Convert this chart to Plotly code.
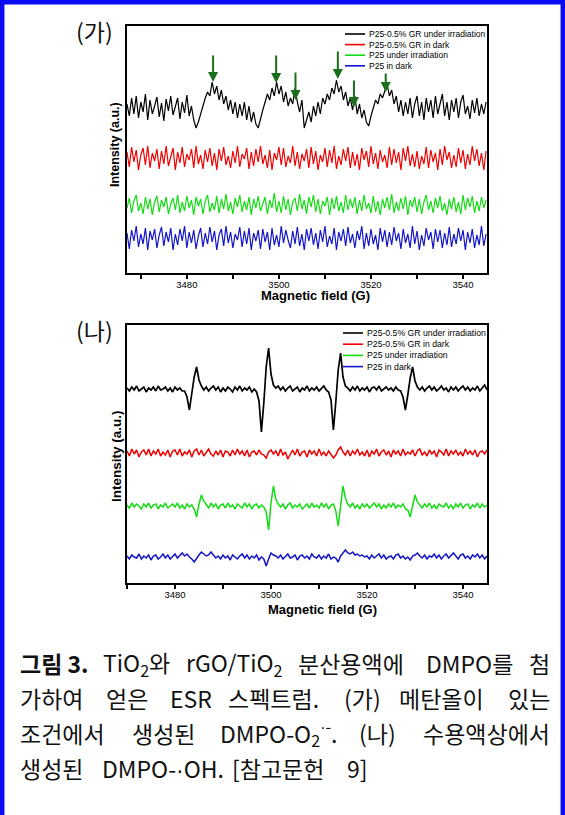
import re
import numpy as np
import plotly.graph_objects as go

W, H = 565, 815

SERIES = ["P25-0.5% GR under irradiation", "P25-0.5% GR in dark",
          "P25 under irradiation", "P25 in dark"]
COLORS = ["#000000", "#ee0000", "#14dc14", "#1414c8"]

# ---- panel (가): DMPO-O2- spectra (deviation from each trace's offset) ----
A_FIELD_START, A_FIELD_STEP = 3467.0, 0.5
A_OFFSETS = [165, 115, 68, 35]
A_BLACK = [4, -8, 10, -6, 12, -10, 6, -4, 14, -12, 8, -6, 2, 11, -9, 5, -13, 9, -3, 12,
           -7, 3, 10, -11, 6, -5, 13, -8, 2, -12, -20, -14, -6, 4, 10, 16, 12, 26, 14, 22,
           8, 18, 4, 12, -2, 8, -6, 6, -10, 4, -8, 6, -12, 2, -14, -4, -16, -20, -10, -2,
           6, 14, 8, 20, 12, 26, 14, 22, 6, 16, 2, 10, 4, 20, 6, -4, 8, -20, -12, -4,
           -14, 2, -8, 6, -6, 10, 4, 14, 8, 20, 14, 28, 16, 22, 8, 16, 2, 10, -2, 12,
           -6, 4, -10, -2, -14, -18, -8, 0, 8, 4, 14, 10, 18, 24, 12, 18, 4, 12, -4, 8,
           -8, 6, -6, 10, -10, 4, 12, -8, 6, -12, 10, -4, 8, -10, 12, -6, 4, 14, -8, 6,
           -12, 8, -4, 10, -10, 6, 13, -6, 2, -11, 8, -5, 10, -8, 4, -6, 6]
A_RED = [6, -9, 11, -4, 8, -12, 3, 10, -7, 12, -10, 5, -3, 9, -11, 7, -6, 12, -8, 2,
         10, -12, 6, -5, 11, -9, 4, -2, 9, -10, 12, -6, 3, -11, 8, -4, 10, -8, 5, -12,
         9, -3, 11, -7, 2, -10, 7, -5, 12, -9, 4, -1, 10, -11, 6, -8, 9, -4, 12, -6,
         3, -10, 8, -12, 5, -2, 11, -7, 10, -9, 2, -5, 12, -8, 6, -11, 4, -3, 9, -10,
         11, -6, 7, -12, 3, -4, 10, -9, 8, -5, 12, -11, 2, -7, 9, -3, 11, -10, 6, -8,
         4, -12, 10, -2, 7, -9, 12, -6, 5, -11, 8, -4, 3, -10, 11, -7, 9, -5, 6, -12,
         10, -3, 12, -8, 4, -9, 7, -11, 2, -6, 11, -10, 8, -4, 5, -12, 9, -7, 12, -2,
         6, -10, 3, -9, 10, -5, 8, -11, 4, -7, 12, -3, 9, -8, 5, -12, 7]
A_GREEN = [-3, 7, -8, 4, 10, -6, 2, -9, 8, -4, 6, -10, 3, 9, -7, 5, -2, 8, -9, 1,
           7, -5, 10, -8, 3, -6, 9, -3, 5, -10, 8, -1, 6, -9, 4, 10, -7, 2, -5, 9,
           -8, 6, -4, 11, -6, 3, -9, 7, -2, 10, -7, 4, -5, 8, -10, 6, -3, 9, -6, 2,
           8, -9, 5, -3, 12, -7, 4, -8, 9, -5, 6, -10, 3, 7, -6, 11, -4, 5, -9, 8,
           -2, 10, -7, 6, -9, 4, -1, 8, -10, 7, -4, 9, -6, 3, -8, 10, -5, 6, -3, 8,
           -9, 5, -6, 10, -4, 2, -8, 9, -7, 4, -10, 6, -3, 8, -5, 11, -8, 3, -6, 7,
           -4, 9, -10, 5, -2, 8, -7, 6, -9, 3, 10, -5, 4, -8, 7, -3, 9, -6, 2, -10,
           6, -4, 8, -7, 3, -9, 10, -5, 7, -2, 9, -8, 4, -6, 8, -3, 5]
A_BLUE = [5, -11, 8, -3, 12, -9, 4, -6, 10, -12, 7, -2, 9, -10, 3, 11, -8, 6, -4, 10,
          -12, 4, -7, 9, -3, 12, -10, 6, -5, 8, -11, 2, 10, -9, 5, -6, 11, -4, 7, -12,
          3, 9, -8, 12, -5, 6, -10, 4, -2, 11, -9, 7, -6, 10, -12, 5, -3, 8, -11, 9,
          -4, 6, -12, 10, -7, 3, -9, 12, -5, 8, -2, -10, 7, -6, 11, -8, 4, -12, 9, -3,
          10, -7, 5, -11, 8, -4, 12, -9, 2, -6, 10, -12, 6, -3, 9, -8, 11, -5, 4, -10,
          7, -2, 12, -11, 5, -8, 9, -6, 3, -12, 10, -4, 8, -9, 6, -7, 11, -3, 5, -11,
          9, -5, 4, -10, 12, -6, 7, -12, 3, -8, 10, -2, 6, -11, 9, -4, 8, -10, 5, -7,
          11, -9, 4, -6, 10, -3, 8, -12, 6, -5, 9, -10, 3, -7, 12, -8, 4]
# green arrows marking DMPO-O2- lines: field (G) and intensity at arrow tip
ARROW_FIELD = [3485.7, 3499.4, 3503.6, 3512.8, 3516.3, 3523.2]
ARROW_TIP = [191, 190, 173, 194, 166, 181]
ARROW_LEN = [28, 29, 29, 29, 28, 20]

# ---- panel (나): DMPO-OH spectra ----
B_FIELD_START, B_FIELD_STEP = 3470.0, 0.5
B_OFFSETS = [194, 130, 77, 26]
B_BLACK = [1, -2, 2, -1, 3, -2, 0, 2, -3, 1, -1, 2, -2, 3, -1, 0, 2, -2, 1, -3,
           2, -1, 1, -2, -2, -8, -21, -6, 12, 22, 9, 3, -1, 2, -2, 1, 3, -1, 2, -3,
           1, -2, 2, 0, -3, 2, -1, 3, -2, 1, -1, 2, -3, 0, -3, -12, -43, -14, 22, 41,
           15, 4, 1, 3, -1, 2, -2, 1, 3, -2, 0, 2, -3, 1, -1, 3, -2, 1, -1, 2,
           -2, 1, 3, -1, -3, -11, -41, -13, 19, 36, 12, 3, 1, -2, 2, -1, 3, -2, 1, -1,
           2, -3, 1, 2, -1, 3, -2, 0, 2, -1, 1, -2, 2, -1, -2, -8, -21, -6, 11, 22,
           8, 2, -1, 2, -2, 1, 3, -1, 2, -2, 0, 3, -1, 1, -3, 2, -1, 2, -2, 1,
           3, -1, 2, -2, 1, -1, 3, -2, 1, 4, -1]
B_RED = [2, -3, 4, -1, 3, -4, 1, 3, -2, 4, -3, 2, -1, 4, -3, 1, -2, 3, -4, 2,
         3, -2, 4, -3, 1, -1, 3, -4, 2, 4, -2, 3, -3, 1, 4, -1, -3, 2, -2, 3,
         -4, 2, 1, -3, 3, -2, 4, -1, 2, -3, 3, -4, 1, 2, -2, 3, -1, -2, -5, 1,
         3, -1, 2, -3, 4, -2, 1, -6, -1, 3, -2, 4, -3, 1, 2, -4, 3, -1, 2, -3,
         4, -2, 1, -3, 2, -1, -5, -2, 3, 6, 1, -2, 3, -3, 2, -1, 4, -2, 1, -3,
         3, -4, 2, -1, 4, -3, 1, 3, -2, 2, -4, 3, -1, 2, -3, 4, -2, 1, -1, 3,
         -3, 2, 4, -2, 1, -3, 3, -1, 2, -4, 3, 1, -2, 4, -3, 2, -1, 3, -2, 1,
         -3, 4, -1, 2, -2, 3, -4, 1, 2, -1, 3]
B_GREEN = [1, -2, 3, -1, 2, 0, -3, 2, -1, 3, -2, 1, 2, -3, 1, -1, 3, -2, 0, 2,
           -1, 3, -2, 1, -3, 2, -1, 1, -3, -11, 2, 11, 5, 1, -2, 3, -1, 2, -3, 1,
           2, -2, 3, -1, 1, -3, 2, 0, -2, 3, -1, 2, -3, 1, 2, -2, 1, -1, -6, -24,
           3, 20, 7, 2, -1, 2, -3, 1, 3, -2, 1, -1, 2, -3, 0, 2, -2, 3, -1, 1,
           -2, 3, -1, 2, -3, 1, 2, -5, -20, 0, 20, 8, 2, -1, 3, -2, 1, -3, 2, -1,
           2, -2, 1, 3, -1, 2, -3, 1, -2, 2, -1, 3, -2, 1, -1, 2, -3, -4, -11, 2,
           11, 4, 1, -2, 2, -1, 3, -2, 1, -3, 2, 0, -1, 3, -2, 1, -3, 2, -1, 3,
           -2, 1, 2, -3, 1, -1, 3, -2, 2, -1, 1]
B_BLUE = [1, -2, 2, 0, -1, 3, -2, 1, -1, 2, -3, 1, 2, -2, 0, 3, -1, 2, -2, 1,
          3, -1, 2, 4, 1, 3, 0, -2, -5, -1, 2, 5, 3, 1, 2, 5, 2, -1, 1, -2,
          2, -1, 1, -3, 2, 0, -2, 1, 3, -1, 2, -2, 1, -1, 2, -3, 0, -2, -9, -2,
          4, 2, 1, -1, 2, -2, 1, 3, -1, 0, 2, -3, 1, 2, -1, 1, -2, 3, 0, -1,
          2, -2, 1, -1, 3, -2, 0, -1, -5, 1, 4, 7, 4, 3, 5, 2, 3, 1, 2, 0,
          1, -2, 2, -1, 1, 3, -1, 2, -2, 0, 1, -2, 2, 3, -1, 1, -2, 0, -3, 1,
          2, 4, 1, -1, 2, -2, 1, 0, 3, -1, 2, -2, 1, 3, -1, 2, 4, 1, -2, 2,
          3, -1, 1, -2, 2, 0, 3, -1, 2, -2, 1]

X_TICKS = [3480, 3500, 3520, 3540]
X_MINOR = [3470, 3490, 3510, 3530]
A_XRANGE = [3467, 3545.2]
B_XRANGE = [3470, 3545]
A_YRANGE = [0, 247]
B_YRANGE = [0, 258]

DOT = "<span style='font-family:Liberation Sans'>·</span>"
CAPTION = [
    ["<b>그림 3.</b>", "TiO<sub>2</sub>와", "rGO/TiO<sub>2</sub>", "분산용액에", "DMPO를", "첨"],
    ["가하여", "얻은", "ESR", "스펙트럼.", "(가)", "메탄올이", "있는"],
    ["조건에서", "생성된", "DMPO-O<sub>2</sub><sup>" + DOT + "-</sup>.", "(나)", "수용액상에서"],
    ["생성된", "DMPO-" + DOT + "OH.", "[참고문헌", "9]"],
]
CAPTION_JUSTIFY = [True, True, True, False]
LAST_LINE_X = [18, 100, 230, 345]
CAPTION_Y = [663, 698, 733, 768]
CAPTION_L, CAPTION_R, CAPTION_FS = 18, 552, 23


def px(x):
    return x / W


def py(y):
    return 1 - y / H


SANS = "Liberation Sans, Arial, sans-serif"
KR = "Noto Sans CJK KR, sans-serif"

# approximate glyph advances (em) for caption layout
_ADV = {"D": .72, "M": .87, "P": .64, "O": .77, "E": .58, "S": .57, "R": .64, "T": .58,
        "G": .73, "H": .74, "i": .27, "r": .40, "-": .34, ".": .26, "/": .38, "(": .31,
        ")": .31, "[": .31, "]": .31, "·": .28, " ": .24}


def text_width(s, fs):
    w = 0.0
    scale = 1.0
    for tok in re.split(r"(<[^>]+>)", s):
        if tok.startswith("<"):
            if tok in ("<sub>", "<sup>"):
                scale = 0.7
            elif tok in ("</sub>", "</sup>"):
                scale = 1.0
            continue
        for ch in tok:
            if "\uac00" <= ch <= "\ud7a3":
                w += 1.0 * scale
            elif ch.isdigit():
                w += 0.55 * scale
            else:
                w += _ADV.get(ch, 0.58) * scale
    return w * fs


fig = go.Figure()
a_sets = [A_BLACK, A_RED, A_GREEN, A_BLUE]
b_sets = [B_BLACK, B_RED, B_GREEN, B_BLUE]
for i, name in enumerate(SERIES):
    vals = np.array(a_sets[i], dtype=float)
    field = A_FIELD_START + A_FIELD_STEP * np.arange(len(vals))
    fig.add_trace(go.Scatter(x=field, y=vals + A_OFFSETS[i], mode="lines", name=name,
                             line=dict(color=COLORS[i], width=1.2), showlegend=False,
                             xaxis="x", yaxis="y"))
for i, name in enumerate(SERIES):
    vals = np.array(b_sets[i], dtype=float)
    field = B_FIELD_START + B_FIELD_STEP * np.arange(len(vals))
    fig.add_trace(go.Scatter(x=field, y=vals + B_OFFSETS[i], mode="lines", name=name,
                             line=dict(color=COLORS[i], width=1.7 if i == 0 else 1.5),
                             showlegend=False, xaxis="x2", yaxis="y2"))

xcommon = dict(showline=True, mirror=True, linecolor="black", linewidth=2,
               ticks="outside", ticklen=4, tickwidth=1.5, tickcolor="black",
               tickvals=X_TICKS, showgrid=False, zeroline=False, ticklabelstandoff=-2,
               tickfont=dict(family=SANS, size=9.5, color="black"),
               minor=dict(tickvals=X_MINOR, ticks="outside", ticklen=4, tickwidth=1.5,
                          tickcolor="black", showgrid=False))
ycommon = dict(showline=True, mirror=True, linecolor="black", linewidth=2,
               ticks="", showticklabels=False, showgrid=False, zeroline=False)

fig.update_layout(
    width=W, height=H, margin=dict(l=0, r=0, t=0, b=0),
    paper_bgcolor="white", plot_bgcolor="white", showlegend=False,
    xaxis=dict(domain=[px(127), px(487)], range=A_XRANGE, anchor="y", **xcommon),
    yaxis=dict(domain=[py(273), py(26)], range=A_YRANGE, anchor="x", **ycommon),
    xaxis2=dict(domain=[px(127), px(487)], range=B_XRANGE, anchor="y2", **xcommon),
    yaxis2=dict(domain=[py(583), py(325)], range=B_YRANGE, anchor="x2", **ycommon),
)

ann = []
shapes = []
# arrows
for f, tip, ln in zip(ARROW_FIELD, ARROW_TIP, ARROW_LEN):
    ann.append(dict(x=f, y=tip, xref="x", yref="y", ax=0, ay=-ln, showarrow=True,
                    arrowhead=2, arrowsize=1, arrowwidth=2, arrowcolor="#1b6e1b",
                    text="", standoff=0))

# legends (drawn manually to match compact rows)
for (x_line0, x_text, y0, dy, fs) in [(345, 367, 34, 10.6, 8.5), (343, 365, 333, 11.2, 8.7)]:
    for i, name in enumerate(SERIES):
        yy = y0 + i * dy
        shapes.append(dict(type="line", xref="paper", yref="paper",
                           x0=px(x_line0), x1=px(x_line0 + 20), y0=py(yy), y1=py(yy),
                           line=dict(color=COLORS[i], width=1.6)))
        ann.append(dict(x=px(x_text), y=py(yy), xref="paper", yref="paper",
                        xanchor="left", yanchor="middle", showarrow=False, text=name,
                        font=dict(family=SANS, size=fs, color="black")))

# axis titles
for (xc, yc) in [(315, 295), (322, 609)]:
    ann.append(dict(x=px(xc), y=py(yc), xref="paper", yref="paper", showarrow=False,
                    xanchor="center", yanchor="middle",
                    text="<b>Magnetic field (G)</b>",
                    font=dict(family=SANS, size=13, color="black")))
for (xc, yc, fs) in [(115, 145, 12.5), (116, 456, 13.5)]:
    ann.append(dict(x=px(xc), y=py(yc), xref="paper", yref="paper", showarrow=False,
                    xanchor="center", yanchor="middle",
                    text="<b>Intensity (a.u.)</b>", textangle=-90,
                    font=dict(family=SANS, size=fs, color="black")))

# panel labels
for (lab, xc, yc) in [("(가)", 94, 31), ("(나)", 94, 330)]:
    ann.append(dict(x=px(xc), y=py(yc), xref="paper", yref="paper", showarrow=False,
                    xanchor="center", yanchor="middle",
                    text=lab, font=dict(family=KR, size=23, color="#111111")))

# caption (justified lines, last line ragged)
for words, just, yc in zip(CAPTION, CAPTION_JUSTIFY, CAPTION_Y):
    widths = [text_width(w, CAPTION_FS) for w in words]
    if just:
        gap = (CAPTION_R - CAPTION_L - sum(widths)) / (len(words) - 1)
        starts = []
        x = CAPTION_L
        for wd in widths:
            starts.append(x)
            x += wd + gap
    else:
        starts = LAST_LINE_X
    for k, (word, x0) in enumerate(zip(words, starts)):
        last = just and k == len(words) - 1
        ann.append(dict(x=px(CAPTION_R if last else x0), y=py(yc), xref="paper", yref="paper",
                        showarrow=False, xanchor="right" if last else "left",
                        yanchor="middle", text=word,
                        font=dict(family=KR, size=CAPTION_FS, color="#111111")))

# blue page frame
shapes.append(dict(type="rect", xref="paper", yref="paper", x0=px(2.2), x1=px(562.8),
                   y0=-0.05, y1=py(2.2), line=dict(color="#0a0af5", width=4.5),
                   fillcolor="rgba(0,0,0,0)"))

fig.update_layout(annotations=ann, shapes=shapes)
fig.write_html("out.html")
